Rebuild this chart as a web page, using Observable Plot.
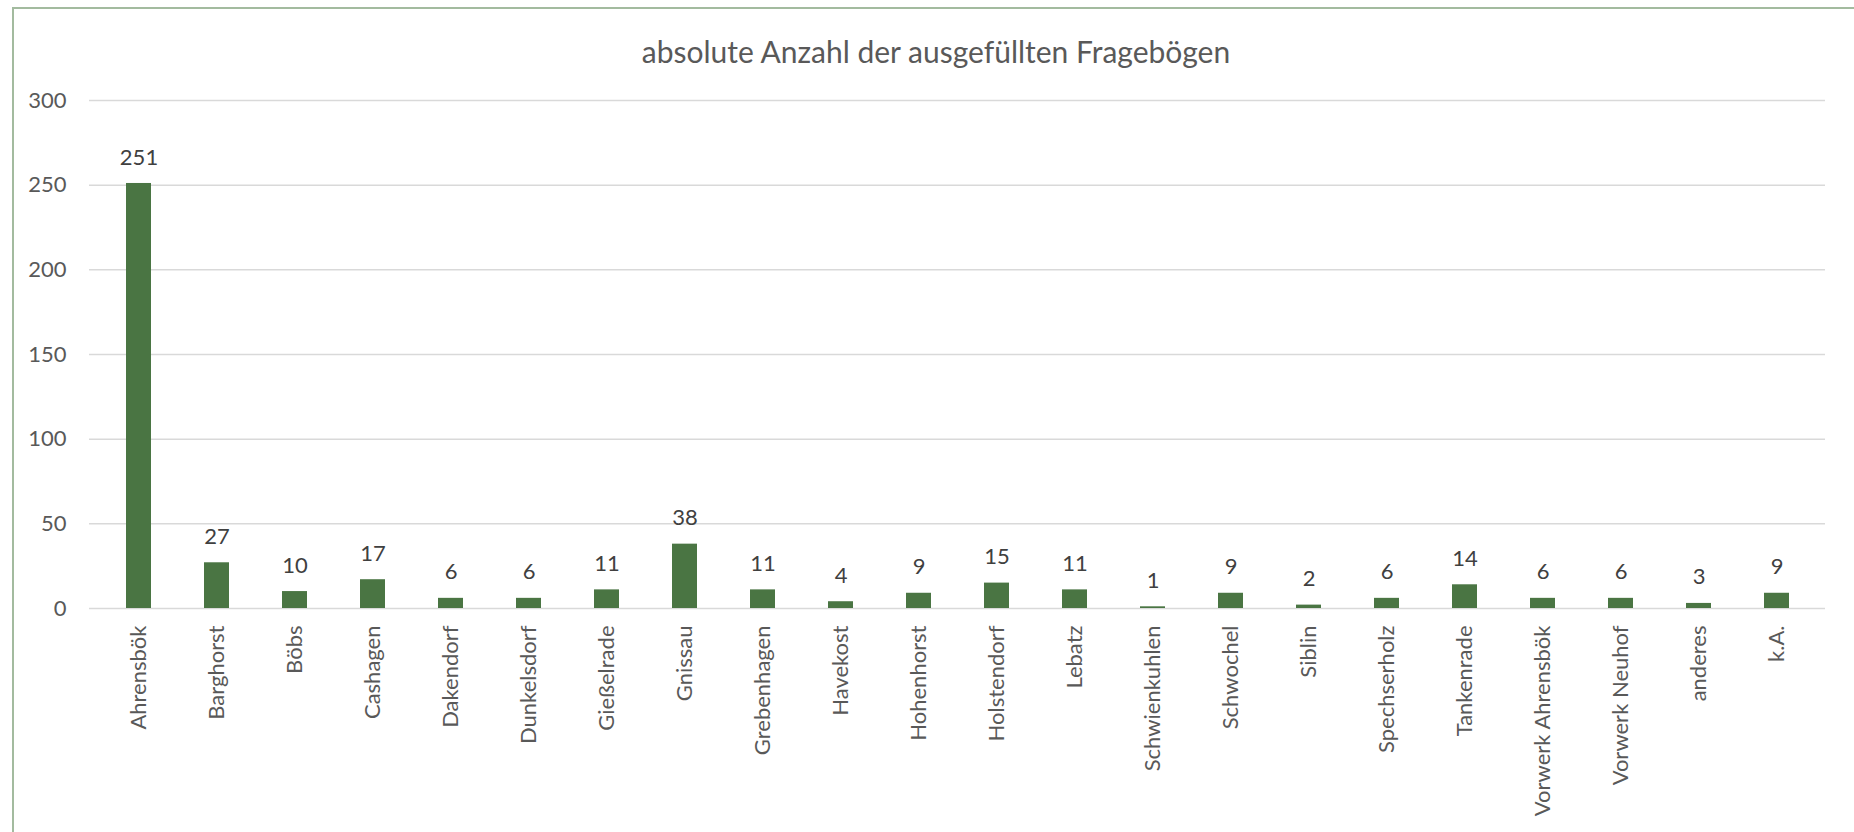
<!DOCTYPE html>
<html>
<head>
<meta charset="utf-8">
<script src="https://cdn.jsdelivr.net/npm/d3@7"></script>
<script src="https://cdn.jsdelivr.net/npm/@observablehq/plot@0.6"></script>
<style>
  html, body { margin: 0; padding: 0; background: #fff; }
  #wrap { position: relative; width: 1854px; height: 832px; overflow: hidden; font-family: Lato, "Liberation Sans", sans-serif; }
  #frame { position: absolute; left: 12px; top: 7px; width: 1900px; height: 900px; border-left: 2px solid #a3bb9f; border-top: 2px solid #a3bb9f; box-sizing: border-box; }
  #title { position: absolute; left: 0; top: 0; width: 1872px; height: 70px; line-height: 102px; text-align: center; font-size: 30px; color: #595959; }
  #chart { position: absolute; left: 0; top: 70px; }
</style>
</head>
<body>
<div id="wrap">
  <div id="frame"></div>
  <div id="title">absolute Anzahl der ausgefüllten Fragebögen</div>
  <div id="chart"></div>
</div>
<script>
const categories = ["Ahrensbök","Barghorst","Böbs","Cashagen","Dakendorf","Dunkelsdorf","Gießelrade","Gnissau","Grebenhagen","Havekost","Hohenhorst","Holstendorf","Lebatz","Schwienkuhlen","Schwochel","Siblin","Spechserholz","Tankenrade","Vorwerk Ahrensbök","Vorwerk Neuhof","anderes","k.A."];
const values = [251,27,10,17,6,6,11,38,11,4,9,15,11,1,9,2,6,14,6,6,3,9];
const yTicks = [0,50,100,150,200,250,300];

const data = categories.map((c, i) => ({cat: c, value: values[i]}));

const chart = Plot.plot({
  width: 1854,
  height: 762,
  marginLeft: 89,
  marginRight: 29,
  marginTop: 30,
  marginBottom: 224,
  style: {fontFamily: "Lato, 'Liberation Sans', sans-serif", fontSize: "22px", color: "#595959", background: "transparent"},
  x: {domain: categories, paddingInner: 0.684, paddingOuter: 0.342, align: 0.5, label: null},
  y: {domain: [0, 300], ticks: yTicks, label: null},
  marks: [
    Plot.gridY(yTicks, {stroke: "#d9d9d9", strokeOpacity: 1, strokeWidth: 1.5}),
    Plot.barY(data, {x: "cat", y: "value", fill: "#4a7543"}),
    Plot.text(data, {x: "cat", y: "value", text: d => String(d.value), dy: -26, lineAnchor: "middle", fill: "#404040", fontSize: 22}),
    Plot.axisY(yTicks, {tickSize: 0, tickPadding: 23, fontSize: 22, fill: "#595959", label: null}),
    Plot.axisX({tickSize: 0, tickPadding: 17, tickRotate: -90, fontSize: 22, fill: "#595959", label: null})
  ]
});
document.getElementById("chart").appendChild(chart);
</script>
</body>
</html>
